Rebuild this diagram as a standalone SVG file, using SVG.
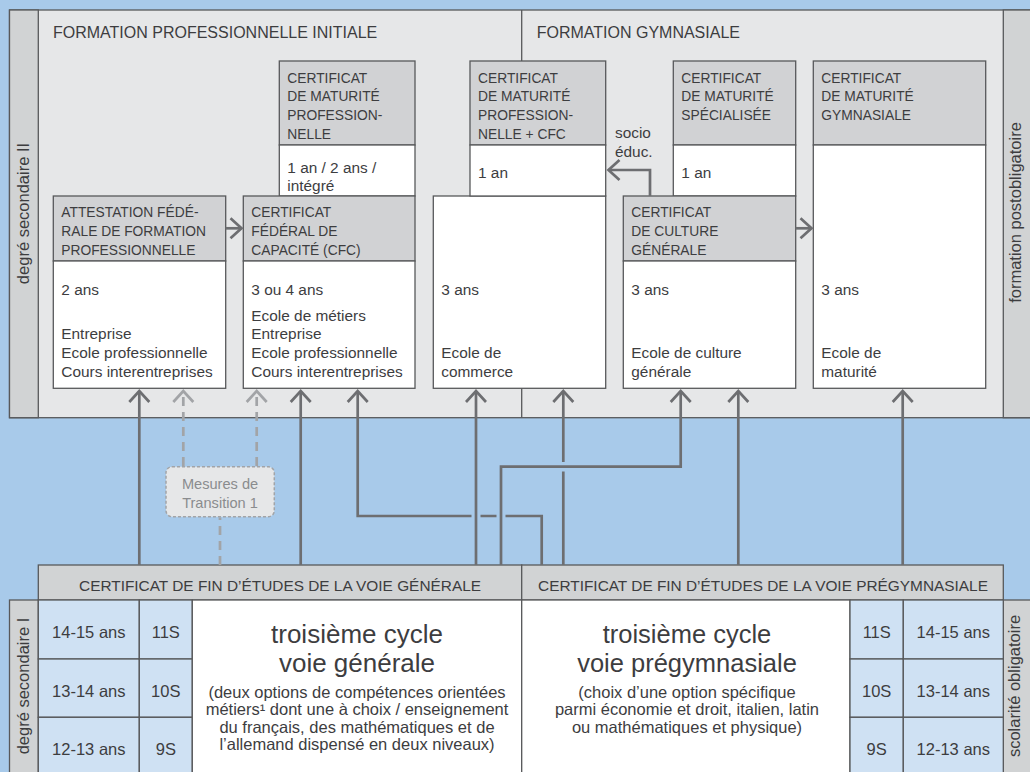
<svg xmlns="http://www.w3.org/2000/svg" width="1030" height="772" viewBox="0 0 1030 772">
<style>
text{font-family:"Liberation Sans",Arial,sans-serif;fill:#3d3d3f}
.title{font-size:16px}
.hdr{font-size:13.8px}
.body{font-size:15.4px}
.cert{font-size:15.4px;text-anchor:middle}
.cell{font-size:16.5px;text-anchor:middle}
.big{font-size:26px;text-anchor:middle}
.small{font-size:16.5px;text-anchor:middle}
.side{font-size:16.5px;text-anchor:middle}
.mes{font-size:14.6px;text-anchor:middle;fill:#8a8c8e}
.bd{stroke:#58595b;stroke-width:1.3}
.hf{fill:#d1d2d4}
.wf{fill:#ffffff}
.pf{fill:#e6e7e8}
.sf{fill:#d1d3d4}
.cf{fill:#cfe1f3}
.con{fill:none;stroke:#6d6e71;stroke-width:2.7}
.dash{fill:none;stroke:#a2a4a7;stroke-width:2.7;stroke-dasharray:9 6}
</style>
<defs>
<marker id="ah" markerUnits="userSpaceOnUse" markerWidth="26" markerHeight="26" viewBox="-13 -13 26 26" refX="0" refY="0" orient="auto" overflow="visible">
<path d="M-11,-10 L0,0 L-11,10" fill="none" stroke="#6d6e71" stroke-width="2.7"/>
</marker>
<marker id="ahd" markerUnits="userSpaceOnUse" markerWidth="26" markerHeight="26" viewBox="-13 -13 26 26" refX="0" refY="0" orient="auto" overflow="visible">
<path d="M-11,-10 L0,0 L-11,10" fill="none" stroke="#a2a4a7" stroke-width="2.7"/>
</marker>
</defs>
<rect x="0" y="0" width="1030" height="772" fill="#a8caea"/>

<g id="panel-secondaire-II">
<rect class="pf bd" x="9.5" y="10" width="1040" height="407.7"/>
<rect class="sf bd" x="9.5" y="10" width="28.8" height="407.7"/>
<rect class="sf bd" x="1003.3" y="10" width="40" height="407.7"/>
<line class="bd" x1="521.7" y1="10" x2="521.7" y2="417.7"/>
<text class="side" transform="translate(28.5,213.5) rotate(-90)">degré secondaire II</text>
<text class="side" transform="translate(1020.5,212.5) rotate(-90)">formation postobligatoire</text>
<text class="title" x="53" y="38.3">FORMATION PROFESSIONNELLE INITIALE</text>
<text class="title" x="536.7" y="38.3">FORMATION GYMNASIALE</text>
</g>

<g id="box-mp">
<rect class="hf bd" x="279.3" y="61" width="135.7" height="84"/>
<rect class="wf bd" x="279.3" y="145" width="135.7" height="51"/>
<text class="hdr" x="287.3" y="82.5">CERTIFICAT</text>
<text class="hdr" x="287.3" y="101.2">DE MATURITÉ</text>
<text class="hdr" x="287.3" y="120">PROFESSION-</text>
<text class="hdr" x="287.3" y="138.7">NELLE</text>
<text class="body" x="287.3" y="173">1 an / 2 ans /</text>
<text class="body" x="287.3" y="191">intégré</text>
</g>

<g id="box-commerce">
<rect class="wf bd" x="433.3" y="196" width="172.4" height="192.3"/>
<text class="body" x="441.3" y="295">3 ans</text>
<text class="body" x="441.3" y="358">Ecole de</text>
<text class="body" x="441.3" y="376.7">commerce</text>
</g>

<g id="box-mp-cfc">
<rect class="hf bd" x="470" y="61" width="135.7" height="84"/>
<rect class="wf bd" x="470" y="145" width="135.7" height="51"/>
<text class="hdr" x="478" y="82.5">CERTIFICAT</text>
<text class="hdr" x="478" y="101.2">DE MATURITÉ</text>
<text class="hdr" x="478" y="120">PROFESSION-</text>
<text class="hdr" x="478" y="138.7">NELLE + CFC</text>
<text class="body" x="478" y="178">1 an</text>
</g>

<g id="box-ms">
<rect class="hf bd" x="673.3" y="61" width="122.4" height="84"/>
<rect class="wf bd" x="673.3" y="145" width="122.4" height="51"/>
<text class="hdr" x="681.3" y="82.5">CERTIFICAT</text>
<text class="hdr" x="681.3" y="101.2">DE MATURITÉ</text>
<text class="hdr" x="681.3" y="120">SPÉCIALISÉE</text>
<text class="body" x="681.3" y="178">1 an</text>
</g>

<g id="box-mg">
<rect class="hf bd" x="813.3" y="61" width="172.4" height="84"/>
<rect class="wf bd" x="813.3" y="145" width="172.4" height="243.3"/>
<text class="hdr" x="821.3" y="82.5">CERTIFICAT</text>
<text class="hdr" x="821.3" y="101.2">DE MATURITÉ</text>
<text class="hdr" x="821.3" y="120">GYMNASIALE</text>
<text class="body" x="821.3" y="295">3 ans</text>
<text class="body" x="821.3" y="358">Ecole de</text>
<text class="body" x="821.3" y="376.7">maturité</text>
</g>

<g id="box-afp">
<rect class="hf bd" x="53.3" y="196" width="172.4" height="65"/>
<rect class="wf bd" x="53.3" y="261" width="172.4" height="127.3"/>
<text class="hdr" x="61.3" y="216.7">ATTESTATION FÉDÉ-</text>
<text class="hdr" x="61.3" y="236">RALE DE FORMATION</text>
<text class="hdr" x="61.3" y="255">PROFESSIONNELLE</text>
<text class="body" x="61.3" y="295">2 ans</text>
<text class="body" x="61.3" y="339.3">Entreprise</text>
<text class="body" x="61.3" y="358">Ecole professionnelle</text>
<text class="body" x="61.3" y="376.7">Cours interentreprises</text>
</g>

<g id="box-cfc">
<rect class="hf bd" x="243.3" y="196" width="171.7" height="65"/>
<rect class="wf bd" x="243.3" y="261" width="171.7" height="127.3"/>
<text class="hdr" x="251.3" y="216.7">CERTIFICAT</text>
<text class="hdr" x="251.3" y="236">FÉDÉRAL DE</text>
<text class="hdr" x="251.3" y="255">CAPACITÉ (CFC)</text>
<text class="body" x="251.3" y="295">3 ou 4 ans</text>
<text class="body" x="251.3" y="320.5">Ecole de métiers</text>
<text class="body" x="251.3" y="339.3">Entreprise</text>
<text class="body" x="251.3" y="358">Ecole professionnelle</text>
<text class="body" x="251.3" y="376.7">Cours interentreprises</text>
</g>

<g id="box-ccg">
<rect class="hf bd" x="623.3" y="196" width="172.4" height="65"/>
<rect class="wf bd" x="623.3" y="261" width="172.4" height="127.3"/>
<text class="hdr" x="631.3" y="216.7">CERTIFICAT</text>
<text class="hdr" x="631.3" y="236">DE CULTURE</text>
<text class="hdr" x="631.3" y="255">GÉNÉRALE</text>
<text class="body" x="631.3" y="295">3 ans</text>
<text class="body" x="631.3" y="358">Ecole de culture</text>
<text class="body" x="631.3" y="376.7">générale</text>
</g>

<g id="label-socio">
<text class="body" x="615" y="138.3">socio</text>
<text class="body" x="615" y="156.7">éduc.</text>
</g>

<g id="mesures-transition">
<rect x="166" y="466.7" width="108.3" height="50" rx="6" fill="#e6e7e8" stroke="#a2a4a7" stroke-width="1.5" stroke-dasharray="3 2"/>
<text class="mes" x="220" y="489.3">Mesures de</text>
<text class="mes" x="220" y="508.3">Transition 1</text>
</g>

<g id="bottom-certs">
<rect class="sf bd" x="38.3" y="565" width="483.4" height="35"/>
<rect class="sf bd" x="521.7" y="565" width="481.6" height="35"/>
<text class="cert" x="280" y="590.5">CERTIFICAT DE FIN D’ÉTUDES DE LA VOIE GÉNÉRALE</text>
<text class="cert" x="763" y="590.5">CERTIFICAT DE FIN D’ÉTUDES DE LA VOIE PRÉGYMNASIALE</text>
</g>

<g id="secondaire-I">
<rect class="sf bd" x="9.5" y="600" width="28.8" height="180"/>
<rect class="sf bd" x="1003.3" y="600" width="40" height="180"/>
<text class="side" transform="translate(28.5,686) rotate(-90)">degré secondaire I</text>
<text class="side" transform="translate(1020,686) rotate(-90)">scolarité obligatoire</text>
</g>

<g id="cells-left">
<rect class="cf bd" x="38.3" y="600" width="101" height="59"/>
<rect class="cf bd" x="38.3" y="659" width="101" height="58.3"/>
<rect class="cf bd" x="38.3" y="717.3" width="101" height="60"/>
<rect class="cf bd" x="139.3" y="600" width="53" height="59"/>
<rect class="cf bd" x="139.3" y="659" width="53" height="58.3"/>
<rect class="cf bd" x="139.3" y="717.3" width="53" height="60"/>
<text class="cell" x="88.8" y="638">14-15 ans</text>
<text class="cell" x="88.8" y="696.5">13-14 ans</text>
<text class="cell" x="88.8" y="754.5">12-13 ans</text>
<text class="cell" x="165.8" y="638">11S</text>
<text class="cell" x="165.8" y="696.5">10S</text>
<text class="cell" x="165.8" y="754.5">9S</text>
</g>

<g id="voie-generale">
<rect class="wf bd" x="192.3" y="600" width="329.4" height="180"/>
<text class="big" x="357" y="643">troisième cycle</text>
<text class="big" x="357" y="671.5">voie générale</text>
<text class="small" x="357" y="697.7">(deux options de compétences orientées</text>
<text class="small" x="357" y="715">métiers¹ dont une à choix / enseignement</text>
<text class="small" x="357" y="732.5">du français, des mathématiques et de</text>
<text class="small" x="357" y="750">l’allemand dispensé en deux niveaux)</text>
</g>

<g id="voie-pregymnasiale">
<rect class="wf bd" x="521.7" y="600" width="328.3" height="180"/>
<text class="big" x="687" y="643" style="font-size:25.5px">troisième cycle</text>
<text class="big" x="687" y="671.5" style="font-size:25.5px">voie prégymnasiale</text>
<text class="small" x="687" y="697.7">(choix d’une option spécifique</text>
<text class="small" x="687" y="715">parmi économie et droit, italien, latin</text>
<text class="small" x="687" y="732.5">ou mathématiques et physique)</text>
</g>

<g id="cells-right">
<rect class="cf bd" x="850" y="600" width="53.3" height="59"/>
<rect class="cf bd" x="850" y="659" width="53.3" height="58.3"/>
<rect class="cf bd" x="850" y="717.3" width="53.3" height="60"/>
<rect class="cf bd" x="903.3" y="600" width="100" height="59"/>
<rect class="cf bd" x="903.3" y="659" width="100" height="58.3"/>
<rect class="cf bd" x="903.3" y="717.3" width="100" height="60"/>
<text class="cell" x="876.7" y="638">11S</text>
<text class="cell" x="876.7" y="696.5">10S</text>
<text class="cell" x="876.7" y="754.5">9S</text>
<text class="cell" x="953.3" y="638">14-15 ans</text>
<text class="cell" x="953.3" y="696.5">13-14 ans</text>
<text class="cell" x="953.3" y="754.5">12-13 ans</text>
</g>

<g id="connectors">
<path class="con" d="M225.7,228.3 H241.5" marker-end="url(#ah)"/>
<path class="con" d="M795.7,228.3 H811.5" marker-end="url(#ah)"/>
<path class="con" d="M650,196 V170 H608.5" marker-end="url(#ah)"/>
<path class="con" d="M139.3,565 V391" marker-end="url(#ah)"/>
<path class="con" d="M300.7,565 V391" marker-end="url(#ah)"/>
<path class="con" d="M541.7,565 V516 H505.5 M496.5,516 H480.5 M471.5,516 H357.7 V391" marker-end="url(#ah)"/>
<path class="con" d="M563.3,565 V471.5 M563.3,462 V391" marker-end="url(#ah)"/>
<path class="con" d="M501,565 V466.7 H680.7 V391" marker-end="url(#ah)"/>
<path class="con" d="M476,565 V391" marker-end="url(#ah)"/>
<path class="con" d="M738.3,565 V391" marker-end="url(#ah)"/>
<path class="con" d="M902.7,565 V391" marker-end="url(#ah)"/>
<path class="dash" d="M183.3,466 V391" marker-end="url(#ahd)"/>
<path class="dash" d="M256.7,466 V391" marker-end="url(#ahd)"/>
<path class="dash" d="M220,565 V517.5"/>
</g>
</svg>
